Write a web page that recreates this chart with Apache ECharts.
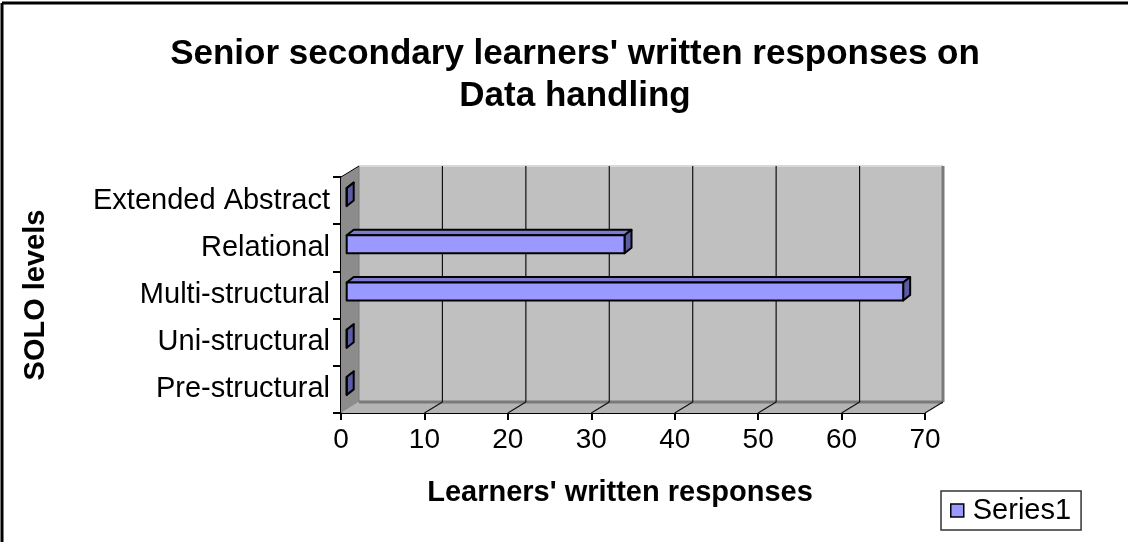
<!DOCTYPE html>
<html>
<head>
<meta charset="utf-8">
<script src="https://cdn.jsdelivr.net/npm/echarts@6/dist/echarts.min.js"></script>
<style>
html,body{margin:0;padding:0;background:#fff;}
#c{width:1128px;height:542px;}
</style>
</head>
<body>
<div id="c"></div>
<script>
const titleLines = ["Senior secondary learners' written responses on", "Data handling"];
const categories = ['Pre-structural', 'Uni-structural', 'Multi-structural', 'Relational', 'Extended Abstract'];
const series1 = [0, 0, 66.7, 33.3, 0];
const xMin = 0, xMax = 70, xStep = 10;
const xName = "Learners' written responses";
const yName = 'SOLO levels';
const seriesName = 'Series1';

const FONT = '"Liberation Sans", Arial, sans-serif';
const DEPTH = [18, -11];
const BAR_OFF = [5.7, -3.5];
const BAR_DEPTH = [7, -5.5];

const chart = echarts.init(document.getElementById('c'), null, {renderer: 'canvas'});

function frameItem(params, api) {
  const cs = params.coordSys;
  const x0 = cs.x, y0 = cs.y, x1 = cs.x + cs.width, y1 = cs.y + cs.height;
  const dx = DEPTH[0], dy = DEPTH[1];
  const ch = [];
  ch.push({type: 'polygon', shape: {points: [[x0, y1], [x1, y1], [x1 + dx, y1 + dy], [x0 + dx, y1 + dy]]},
    style: {fill: '#b4b4b4', stroke: null}});
  ch.push({type: 'polygon', shape: {points: [[x0, y0], [x0 + dx, y0 + dy], [x0 + dx, y1 + dy], [x0, y1]]},
    style: {fill: '#8c8c8c', stroke: null}});
  ch.push({type: 'rect', shape: {x: x0 + dx, y: y0 + dy, width: x1 - x0, height: y1 - y0},
    style: {fill: '#c0c0c0', stroke: null}});
  ch.push({type: 'line', shape: {x1: x0 + dx, y1: y0 + dy, x2: x1 + dx, y2: y0 + dy}, style: {stroke: '#d8d8d8', lineWidth: 2}});
  ch.push({type: 'line', shape: {x1: x1 + dx, y1: y0 + dy, x2: x1 + dx, y2: y1 + dy}, style: {stroke: '#7a7a7a', lineWidth: 3}});
  ch.push({type: 'line', shape: {x1: x0 + dx, y1: y1 + dy, x2: x1 + dx, y2: y1 + dy}, style: {stroke: '#7a7a7a', lineWidth: 3}});
  ch.push({type: 'line', shape: {x1: x0 + dx, y1: y0 + dy, x2: x0 + dx, y2: y1 + dy}, style: {stroke: '#7a7a7a', lineWidth: 1}});
  ch.push({type: 'line', shape: {x1: x0, y1: y0, x2: x0 + dx, y2: y0 + dy}, style: {stroke: '#000', lineWidth: 1}});
  for (let v = xMin; v <= xMax; v += xStep) {
    const px = api.coord([v, 0])[0];
    if (v > xMin && v < xMax) {
      ch.push({type: 'line', shape: {x1: px + dx, y1: y0 + dy, x2: px + dx, y2: y1 + dy}, style: {stroke: '#111', lineWidth: 1.2}});
    }
    if (v > xMin) {
      ch.push({type: 'line', shape: {x1: px, y1: y1, x2: px + dx, y2: y1 + dy}, style: {stroke: '#111', lineWidth: 1.2}});
    }
  }
  return {type: 'group', children: ch};
}

function barItem(params, api) {
  const val = api.value(0);
  const idx = api.value(1);
  const band = api.size([0, 1])[1];
  const p0 = api.coord([xMin, idx]);
  const p1 = api.coord([val, idx]);
  const h = band * 0.38;
  const fx0 = p0[0] + BAR_OFF[0], fx1 = p1[0] + BAR_OFF[0];
  const fy0 = p0[1] + BAR_OFF[1] - h / 2, fy1 = p0[1] + BAR_OFF[1] + h / 2;
  const bx = BAR_DEPTH[0], by = BAR_DEPTH[1];
  const line = {stroke: '#000', lineWidth: 2, lineJoin: 'round'};
  return {type: 'group', children: [
    {type: 'polygon', shape: {points: [[fx0, fy0], [fx1, fy0], [fx1 + bx, fy0 + by], [fx0 + bx, fy0 + by]]},
      style: Object.assign({fill: '#7b7bd0'}, line)},
    {type: 'polygon', shape: {points: [[fx1, fy0], [fx1 + bx, fy0 + by], [fx1 + bx, fy1 + by], [fx1, fy1]]},
      style: Object.assign({fill: '#5c5ca4'}, line)},
    {type: 'rect', shape: {x: fx0, y: fy0, width: fx1 - fx0, height: fy1 - fy0},
      style: Object.assign({fill: '#9999ff'}, line)}
  ]};
}

const option = {
  backgroundColor: '#ffffff',
  animation: false,
  title: {
    text: titleLines.join('\n'),
    left: 570,
    top: 28,
    textAlign: 'center',
    textStyle: {fontFamily: FONT, fontWeight: 'bold', fontSize: 35, lineHeight: 42, color: '#000'}
  },
  legend: {
    left: 941,
    top: 491,
    orient: 'horizontal',
    data: [{name: seriesName, icon: 'rect', itemStyle: {color: '#9999ff', borderColor: '#000', borderWidth: 1.5}}],
    itemWidth: 13,
    itemHeight: 13,
    itemGap: 10,
    padding: [5, 10, 5, 9],
    backgroundColor: '#fff',
    borderColor: '#333',
    borderWidth: 1.5,
    borderRadius: 0,
    textStyle: {fontFamily: FONT, fontSize: 29, color: '#000', padding: [0, 0, 0, 4]}
  },
  grid: {left: 341, right: 1128 - 925, top: 177, bottom: 542 - 413, containLabel: false},
  xAxis: {
    type: 'value', min: xMin, max: xMax, interval: xStep,
    name: xName, nameLocation: 'middle', nameGap: 65,
    nameTextStyle: {fontFamily: FONT, fontWeight: 'bold', fontSize: 29, color: '#000', padding: [0, 26, 0, 0]},
    axisLine: {show: true, lineStyle: {color: '#000', width: 2}},
    axisTick: {show: true, length: 7, lineStyle: {color: '#000', width: 2}},
    axisLabel: {fontFamily: FONT, fontSize: 28, color: '#000', margin: 13},
    splitLine: {show: false}
  },
  yAxis: {
    type: 'category', data: categories,
    name: yName, nameLocation: 'middle', nameGap: 291, nameRotate: 90,
    nameTextStyle: {fontFamily: FONT, fontWeight: 'bold', fontSize: 29, color: '#000'},
    axisLine: {show: true, lineStyle: {color: '#000', width: 2}},
    axisTick: {show: true, length: 8, lineStyle: {color: '#000', width: 2}},
    axisLabel: {fontFamily: FONT, fontSize: 29, color: '#000', margin: 11},
    splitLine: {show: false}
  },
  series: [
    {type: 'custom', name: 'frame', silent: true, z: 1, renderItem: frameItem, data: [[0, 0]]},
    {type: 'custom', name: seriesName, z: 3, renderItem: barItem,
      itemStyle: {color: '#9999ff'},
      encode: {x: 0, y: 1},
      data: series1.map((v, i) => [v, i])}
  ],
  graphic: [
    {type: 'line', shape: {x1: 2, y1: 3, x2: 1128, y2: 3}, style: {stroke: '#000', lineWidth: 3}, z: 100},
    {type: 'line', shape: {x1: 2, y1: 3, x2: 2, y2: 542}, style: {stroke: '#000', lineWidth: 3}, z: 100}
  ]
};
chart.setOption(option);
</script>
</body>
</html>
